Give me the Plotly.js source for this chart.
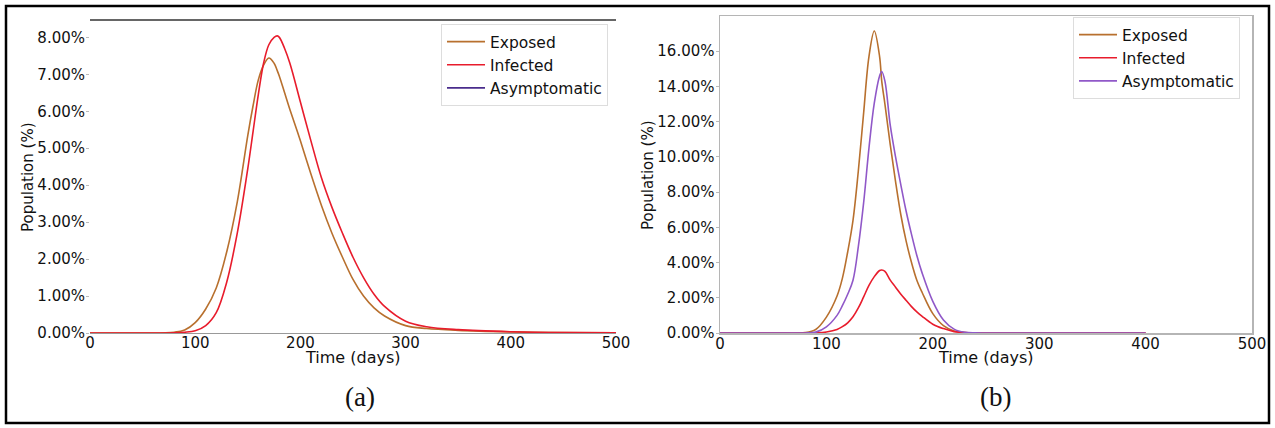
<!DOCTYPE html>
<html>
<head>
<meta charset="utf-8">
<script src="https://cdn.plot.ly/plotly-3.0.1.min.js"></script>
<style>html,body{margin:0;padding:0;background:#fff;}#chart{width:1275px;height:428px;}</style>
</head>
<body>
<div id="chart"></div>
<script>
// ---- Panel (a) data ----
const daysA = [0,50,80,90,100,110,120,130,140,150,155,160,165,170,175,178,180,185,190,200,210,220,230,240,250,260,270,280,300,320,350,400,450,500];
const exposedA = [0,0,0.02,0.08,0.28,0.65,1.22,2.2,3.55,5.35,6.15,6.85,7.25,7.44,7.3,7.1,6.95,6.5,6.05,5.2,4.3,3.45,2.7,2.05,1.45,1.0,0.68,0.46,0.2,0.12,0.07,0.03,0.01,0.005];
const infectedA = [0,0,0.005,0.02,0.06,0.2,0.55,1.38,2.7,4.45,5.45,6.45,7.3,7.8,8.0,8.04,8.0,7.7,7.3,6.25,5.2,4.2,3.4,2.7,2.05,1.5,1.05,0.72,0.32,0.17,0.09,0.035,0.01,0.005];
// no Asymptomatic curve is visible in panel (a): only its legend entry is shown
const asymptomaticA = daysA.map(() => null);

// ---- Panel (b) data ----
const daysB = [0,50,80,90,100,110,115,120,125,130,135,140,145,150,152,155,160,165,170,175,180,185,190,200,210,220,230,240,250,300,350,400];
const exposedB = [0,0,0.02,0.2,0.9,2.1,3.1,4.6,6.4,9.2,12.5,15.7,17.15,15.7,14.3,13.0,10.7,8.6,6.7,5.2,4.0,3.0,2.3,1.1,0.42,0.12,0.03,0.005,0,0,0,0];
const infectedB = [0,0,0,0.01,0.06,0.2,0.36,0.58,0.92,1.42,2.05,2.7,3.2,3.55,3.58,3.5,3.0,2.6,2.2,1.85,1.5,1.2,0.95,0.5,0.25,0.08,0.02,0.005,0,0,0,0];
const asymptomaticB = [0,0,0,0.05,0.35,1.0,1.55,2.2,3.0,4.9,7.4,10.5,13.05,14.6,14.85,14.3,11.8,10.0,8.4,6.9,5.6,4.4,3.4,1.8,0.74,0.22,0.04,0.005,0,0,0,0];

const xTicks = [0,100,200,300,400,500];
const yTicksA = [0,1,2,3,4,5,6,7,8];
const yTicksB = [0,2,4,6,8,10,12,14,16];
const seriesNames = ['Exposed','Infected','Asymptomatic'];
const xTitle = 'Time (days)', yTitle = 'Population (%)';
const pct = v => v.toFixed(2) + '%';

const cExp = '#b8702e', cInf = '#e81c2c', cAsymA = '#4a2c8c', cAsymB = '#9058c8';
const lw = 1.6;
function tr(x, y, name, color, xa, ya, lg, rank) {
  return {x:x, y:y, name:name, type:'scatter', mode:'lines', xaxis:xa, yaxis:ya, legend:lg, legendrank:rank,
    line:{color:color, width:lw, shape:'spline', smoothing:1.0}, hoverinfo:'skip'};
}
const data = [
  tr(daysA, exposedA, seriesNames[0], cExp, 'x', 'y', 'legend', 1),
  tr(daysA, infectedA, seriesNames[1], cInf, 'x', 'y', 'legend', 2),
  tr(daysA, asymptomaticA, seriesNames[2], cAsymA, 'x', 'y', 'legend', 3),
  tr(daysB, exposedB, seriesNames[0], cExp, 'x2', 'y2', 'legend2', 1),
  tr(daysB, infectedB, seriesNames[1], cInf, 'x2', 'y2', 'legend2', 2),
  tr(daysB, asymptomaticB, seriesNames[2], cAsymB, 'x2', 'y2', 'legend2', 3)
];

const W = 1275, H = 428;
const px = v => v / W, py = v => 1 - v / H;
const tickFont = {family:'DejaVu Sans', size:15, color:'#111'};
const legendBase = {xanchor:'left', yanchor:'top', bgcolor:'rgba(255,255,255,0.9)', bordercolor:'#dddddd', borderwidth:1,
  font:{family:'DejaVu Sans', size:15.5, color:'#111'}, traceorder:'normal', itemwidth:38};

function xAx(dom, anchor, extra) {
  return Object.assign({domain:dom, range:[0,500], anchor:anchor, tickmode:'array', tickvals:xTicks, ticktext:xTicks.map(String),
    ticks:'', showgrid:false, zeroline:false, showline:true, linecolor:'#999', linewidth:1, tickfont:tickFont,
    automargin:false, ticklabelstandoff:-4}, extra || {});
}
function yAx(dom, range, vals, anchor, extra) {
  return Object.assign({domain:dom, range:range, anchor:anchor, tickmode:'array', tickvals:vals, ticktext:vals.map(pct),
    ticks:'outside', ticklen:3, tickcolor:'#bbb', showgrid:false, zeroline:false, showline:false, tickfont:tickFont,
    automargin:false, ticklabelstandoff:-2}, extra || {});
}
function ann(text, x, y, size, family, angle) {
  return {text:text, xref:'paper', yref:'paper', x:px(x), y:py(y), xanchor:'center', yanchor:'middle', showarrow:false,
    textangle:angle || 0, font:{family:family, size:size, color:'#111'}};
}

const layout = {
  width:W, height:H, margin:{l:0,r:0,t:0,b:0}, paper_bgcolor:'#fff', plot_bgcolor:'#fff',
  font:{family:'DejaVu Sans', color:'#111'}, showlegend:true,
  xaxis:xAx([px(90), px(616)], 'y'),
  yaxis:yAx([py(333), py(20)], [0,8.47], yTicksA, 'x'),
  xaxis2:xAx([px(720), px(1252)], 'y2', {mirror:true, linecolor:'#b5b5b5', linewidth:1.5}),
  yaxis2:yAx([py(333), py(16)], [0,18.0], yTicksB, 'x2', {showline:true, mirror:true, linecolor:'#b5b5b5', linewidth:1.5}),
  legend:Object.assign({x:px(441), y:py(24)}, legendBase),
  legend2:Object.assign({x:px(1073), y:py(17)}, legendBase),
  shapes:[
    {type:'rect', xref:'paper', yref:'paper', x0:px(6), x1:px(1269), y0:py(423), y1:py(6), line:{color:'#000', width:2.5}},
    {type:'line', xref:'paper', yref:'paper', x0:px(90), x1:px(616), y0:py(20), y1:py(20), line:{color:'#666', width:2}}
  ],
  annotations:[
    ann(xTitle, 353, 357, 16, 'DejaVu Sans'),
    ann(xTitle, 986, 357, 16, 'DejaVu Sans'),
    ann(yTitle, 28, 177, 15, 'DejaVu Sans', -90),
    ann(yTitle, 648, 175, 15, 'DejaVu Sans', -90),
    ann('(a)', 360, 397, 27, 'Liberation Serif'),
    ann('(b)', 995, 397, 27, 'Liberation Serif')
  ]
};

Plotly.newPlot('chart', data, layout, {staticPlot:true, displayModeBar:false});
</script>
</body>
</html>
